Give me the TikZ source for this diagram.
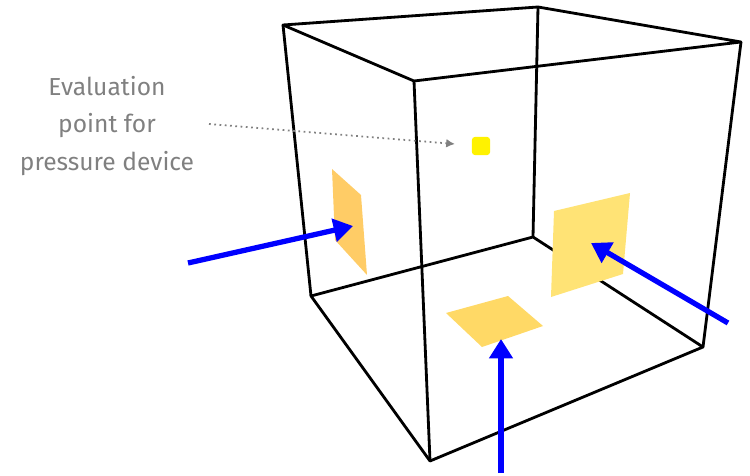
\documentclass[tikz,border=0pt]{standalone}
\usepackage{fontspec}
\setmainfont{Fira Sans}
\usetikzlibrary{arrows.meta}
\definecolor{patchleft}{HTML}{FFCC66}
\definecolor{patchright}{HTML}{FFE375}
\definecolor{patchfloor}{HTML}{FFD966}
\definecolor{labelgray}{HTML}{808080}
\tikzset{
  cubeedge/.style={draw=black, line width=1.6pt, line join=round},
  loadarrow/.style={draw=blue, line width=3pt, -{Triangle[width=13pt,length=11pt]}},
  hintarrow/.style={draw=labelgray, line width=1pt, dotted, -{Latex[length=5pt,width=5pt]}},
}
\begin{document}
\begin{tikzpicture}[x=0.02cm,y=-0.02cm]
  \useasboundingbox (0,0) rectangle (750,476);
  % corners of the cube
  \coordinate (topleft) at (283,25);
  \coordinate (topback) at (538,7);
  \coordinate (topright) at (741,42);
  \coordinate (topfront) at (414,81);
  \coordinate (botleft) at (311,296);
  \coordinate (botback) at (533,237);
  \coordinate (botright) at (703,347);
  \coordinate (botfront) at (430,461);
  % cube
  \draw[cubeedge] (topleft) -- (topback) -- (topright) -- (topfront) -- cycle;
  \draw[cubeedge] (botleft) -- (botback) -- (botright) -- (botfront) -- cycle;
  \draw[cubeedge] (topleft) -- (botleft);
  \draw[cubeedge] (topback) -- (botback);
  \draw[cubeedge] (topright) -- (botright);
  \draw[cubeedge] (topfront) -- (botfront);
  % patches
  \fill[patchleft] (332,169) -- (361,195) -- (367,275) -- (335,240) -- cycle;
  \fill[patchright] (554,211) -- (630,193) -- (623,274) -- (551,297) -- cycle;
  \fill[patchfloor] (446,313) -- (508,296) -- (543,326) -- (482,347) -- cycle;
  % evaluation point
  \node[fill=yellow, rounded corners=2pt, minimum size=10.5pt, inner sep=0pt] (evalpoint) at (481,146) {};
  \node[align=center, text=labelgray, font=\fontsize{14}{21.5}\selectfont] (evaltext) at (107,126)
    {Evaluation\\point for\\pressure device};
  \coordinate (hintstart) at (209,124);
  \draw[hintarrow] (hintstart) -- (455,144);
  % loads
  \coordinate (loadleft) at (188,263);
  \coordinate (loadright) at (728,323);
  \coordinate (loadfloor) at (501,473);
  \coordinate (tipleft) at (353,226);
  \coordinate (tipright) at (591,243);
  \coordinate (tipfloor) at (501,339);
  \draw[loadarrow] (loadleft) -- (tipleft);
  \draw[loadarrow] (loadright) -- (tipright);
  \draw[loadarrow] (loadfloor) -- (tipfloor);
\end{tikzpicture}
\end{document}
